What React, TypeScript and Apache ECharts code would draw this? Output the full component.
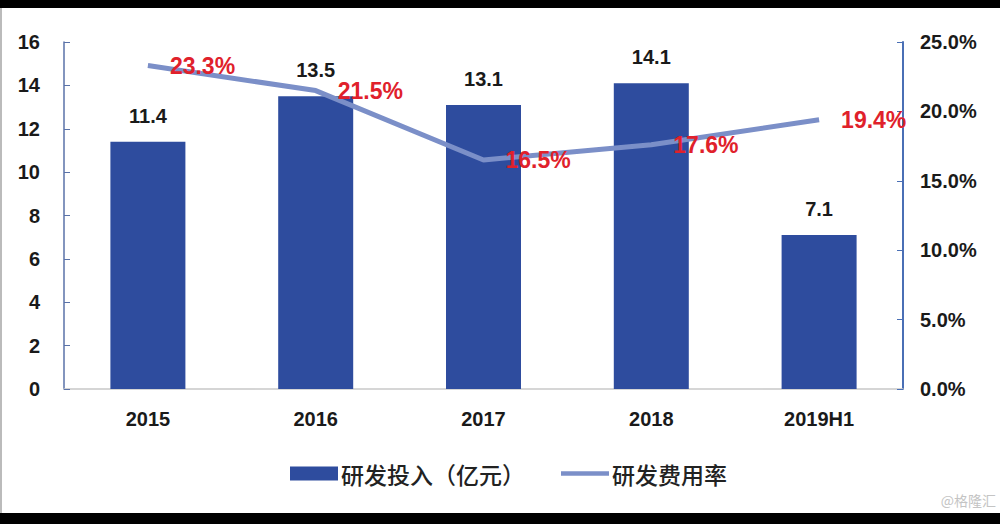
import React, { useEffect, useRef } from "react";
import * as echarts from "echarts";

const categories = ["2015", "2016", "2017", "2018", "2019H1"];
const rdInvestment = [11.4, 13.5, 13.1, 14.1, 7.1];
const rdRate = [23.3, 21.5, 16.5, 17.6, 19.4];
const barName = "研发投入（亿元）";
const lineName = "研发费用率";

export default function App() {
  const ref = useRef<HTMLDivElement>(null);
  useEffect(() => {
    if (!ref.current) return;
    const chart = echarts.init(ref.current, undefined, { renderer: "svg" });
    const font = '"Liberation Sans", Arial, sans-serif';
    const cjk = '"Noto Sans CJK SC", sans-serif';
    chart.setOption({
      animation: false,
      backgroundColor: "#ffffff",
      grid: { left: 64, right: 97, top: 42, bottom: 135 },
      legend: {
        left: 285,
        top: 457,
        itemWidth: 48,
        itemHeight: 14,
        itemGap: 36,
        textStyle: { fontFamily: cjk, fontSize: 23, fontWeight: 500, color: "#222", padding: [0, 0, 0, -2] },
        data: [
          { name: barName, icon: "rect" },
          {
            name: lineName,
            icon: "path://M0,0 L54,0 L54,5 L0,5 Z",
            itemStyle: { color: "#7b8fc8", opacity: 1 },
          },
        ],
      },
      xAxis: {
        type: "category",
        data: categories,
        axisLine: { lineStyle: { color: "#c8c8c8", width: 1.5 } },
        axisTick: { show: false },
        axisLabel: { fontFamily: font, fontWeight: "bold", fontSize: 20, color: "#1a1a1a", margin: 20 },
      },
      yAxis: [
        {
          type: "value",
          min: 0,
          max: 16,
          interval: 2,
          axisLine: { show: true, lineStyle: { color: "#5a72a8", width: 1.5 } },
          axisTick: { show: true, inside: true, length: 6, lineStyle: { color: "#5a72a8" } },
          splitLine: { show: false },
          axisLabel: { fontFamily: font, fontWeight: "bold", fontSize: 20, color: "#1a1a1a", margin: 24 },
        },
        {
          type: "value",
          min: 0,
          max: 25,
          interval: 5,
          position: "right",
          axisLine: { show: true, lineStyle: { color: "#4a6fb5", width: 2 } },
          axisTick: { show: true, inside: true, length: 6, lineStyle: { color: "#4a6fb5" } },
          splitLine: { show: false },
          axisLabel: {
            fontFamily: font,
            fontWeight: "bold",
            fontSize: 20,
            color: "#1a1a1a",
            margin: 17,
            formatter: (v: number) => v.toFixed(1) + "%",
          },
        },
      ],
      series: [
        {
          name: barName,
          type: "bar",
          data: rdInvestment,
          barWidth: 75,
          itemStyle: { color: "#2e4c9e" },
          label: {
            show: true,
            position: "top",
            distance: 16,
            fontFamily: font,
            fontWeight: "bold",
            fontSize: 20,
            color: "#1a1a1a",
          },
        },
        {
          name: lineName,
          type: "line",
          yAxisIndex: 1,
          data: rdRate,
          symbol: "circle",
          symbolSize: 2,
          showSymbol: true,
          lineStyle: { color: "#7b8fc8", width: 5 },
          itemStyle: { color: "rgba(123,143,200,0)", borderWidth: 0 },
          label: {
            show: true,
            position: "right",
            distance: 21,
            fontFamily: font,
            fontWeight: "bold",
            fontSize: 23,
            color: "#e0212b",
            formatter: (p: any) => p.value.toFixed(1) + "%",
          },
          z: 5,
        },
      ],
      graphic: [
        { type: "rect", left: 0, top: 0, shape: { width: 1000, height: 8 }, style: { fill: "#000" } },
        { type: "rect", left: 0, top: 513, shape: { width: 1000, height: 11 }, style: { fill: "#000" } },
        { type: "rect", left: 0, top: 8, shape: { width: 2, height: 505 }, style: { fill: "#bbb" } },
        {
          type: "text",
          right: 4,
          top: 493,
          style: { text: "@格隆汇", fill: "#c4c4c4", font: '14px "Noto Sans CJK SC", sans-serif' },
        },
      ],
    });
    return () => chart.dispose();
  }, []);
  return (
    <div
      ref={ref}
      style={{ position: "absolute", left: 0, top: 0, width: 1000, height: 524 }}
    />
  );
}
